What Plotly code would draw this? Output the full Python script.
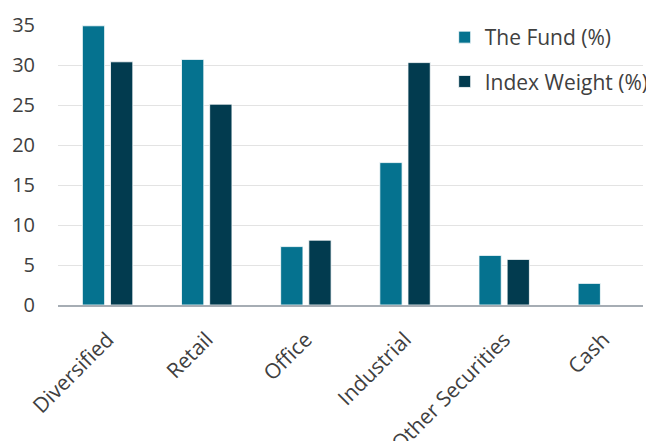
import plotly.graph_objects as go

categories = ["Diversified", "Retail", "Office", "Industrial", "Other Securities", "Cash"]
fund = [34.9, 30.7, 7.3, 17.8, 6.2, 2.7]
index_weight = [30.4, 25.1, 8.1, 30.3, 5.7, None]
y_ticks = [0, 5, 10, 15, 20, 25, 30, 35]

FONT = "Open Sans"
TXT = "#404040"

fig = go.Figure()
fig.add_trace(go.Bar(x=categories, y=fund, name="The Fund (%)",
                     marker=dict(color="#05728f", line=dict(color="#ffffff", width=0.8)),
                     legendgroup="a"))
fig.add_trace(go.Bar(x=categories, y=index_weight, name="Index Weight (%)",
                     marker=dict(color="#023b4f", line=dict(color="#ffffff", width=0.8)),
                     legendgroup="b"))

fig.update_layout(
    width=646, height=433,
    margin=dict(l=50, r=0, t=17, b=136),
    paper_bgcolor="white", plot_bgcolor="white",
    font=dict(family=FONT, size=20, color=TXT),
    barmode="group", bargap=0.432, bargroupgap=0.209,
    showlegend=True,
    legend=dict(x=0.661, y=1.0286, xanchor="left", yanchor="top",
                bgcolor="rgba(0,0,0,0)", traceorder="grouped", tracegroupgap=14,
                font=dict(family=FONT, size=21, color=TXT)),
    xaxis=dict(tickangle=-45, showgrid=False, showline=True, linecolor="#a6adb4", linewidth=2,
               range=[-0.5, 5.4],
               ticks="outside", ticklen=12, tickcolor="rgba(0,0,0,0)", automargin=False,
               tickfont=dict(family=FONT, size=21, color=TXT)),
    yaxis=dict(range=[0, 35], tickvals=y_ticks, showgrid=True, gridcolor="#e3e3e3", gridwidth=1,
               zeroline=False, showline=False, ticks="outside", ticklen=18,
               tickcolor="rgba(0,0,0,0)", automargin=False,
               tickfont=dict(family=FONT, size=20, color=TXT)),
)

fig.write_html("out.html")
